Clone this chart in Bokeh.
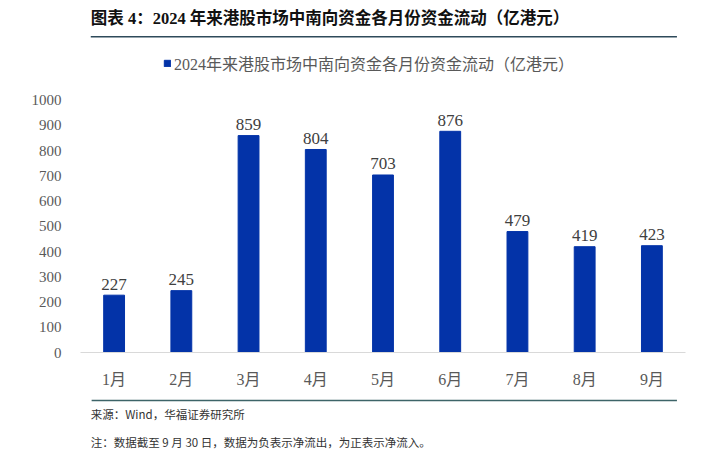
from bokeh.models import ColumnDataSource, Range1d, FactorRange, Legend, LegendItem
from bokeh.plotting import figure
from bokeh.layouts import column
from bokeh.core.properties import value
from bokeh.embed import file_html
from bokeh.resources import INLINE

months = ["1月", "2月", "3月", "4月", "5月", "6月", "7月", "8月", "9月"]
flows = [227, 245, 859, 804, 703, 876, 479, 419, 423]
y_ticks = [0, 100, 200, 300, 400, 500, 600, 700, 800, 900, 1000]

title_text = "图表 4：2024 年来港股市场中南向资金各月份资金流动（亿港元）"
series_name = "2024年来港股市场中南向资金各月份资金流动（亿港元）"
source_text = "来源：Wind，华福证券研究所"
note_text = "注：数据截至 9 月 30 日，数据为负表示净流出，为正表示净流入。"

SERIF = "Liberation Serif, Noto Sans CJK SC"
SANS = "Noto Sans CJK SC"
BLUE = "#0333A8"
W = 707


def strip(h):
    # plain figure in pixel coordinates, y pointing down
    f = figure(width=W, height=h, x_range=Range1d(0, W), y_range=Range1d(h, 0),
               output_backend="svg", toolbar_location=None,
               x_axis_location=None, y_axis_location=None, min_border=0)
    f.outline_line_color = None
    f.grid.grid_line_color = None
    return f


# header: title + rule
head = strip(46)
head.text(x=[12], y=[18], text=[title_text], text_font=value(SERIF), text_font_size="16.5px",
          text_font_style="bold", text_color="#111111", text_baseline="middle")
head.segment(x0=[12], y0=[36.3], x1=[697], y1=[36.3], line_color="#2E4A5A", line_width=1.6)

# main chart
src = ColumnDataSource(data=dict(month=months, flow=flows, lbl=[str(v) for v in flows]))

p = figure(x_range=FactorRange(*months, range_padding=0), y_range=Range1d(0, 1200),
           width=W, height=344, output_backend="svg", toolbar_location=None,
           min_border_left=80, min_border_right=22, min_border_top=3, min_border_bottom=37)
p.outline_line_color = None
p.grid.grid_line_color = None

bars = p.vbar(x="month", top="flow", width=0.31, color=BLUE, source=src)
p.text(x="month", y="flow", text="lbl", source=src, text_align="center",
       text_baseline="alphabetic", y_offset=-11, text_font=value(SERIF),
       text_font_size="17px", text_color="#404040")

p.yaxis.ticker = y_ticks
p.yaxis.axis_line_color = None
p.yaxis.major_tick_line_color = None
p.yaxis.minor_tick_line_color = None
p.yaxis.major_label_text_font = SERIF
p.yaxis.major_label_text_font_size = "15px"
p.yaxis.major_label_text_color = "#595959"
p.yaxis.major_label_standoff = 13

p.xaxis.axis_line_color = "#D9D9D9"
p.xaxis.major_tick_line_color = None
p.xaxis.minor_tick_line_color = None
p.xaxis.major_label_text_font = SERIF
p.xaxis.major_label_text_font_size = "16px"
p.xaxis.major_label_text_color = "#595959"
p.xaxis.major_label_standoff = 12

legend = Legend(items=[LegendItem(label=series_name, renderers=[bars])],
                location=(83, 277), glyph_width=8, glyph_height=8, label_standoff=3,
                padding=0, margin=0, border_line_color=None, background_fill_alpha=0,
                label_text_font=SERIF, label_text_font_size="16px", label_text_color="#595959")
p.add_layout(legend, "center")

# footer: rule + source + note
foot = strip(70)
foot.segment(x0=[13], y0=[10], x1=[697], y1=[10], line_color="#3D6468", line_width=1.6)
foot.text(x=[12, 12], y=[23, 51], text=[source_text, note_text], text_font=value(SANS),
          text_font_size="11.5px", text_color="#333333", text_baseline="middle")

page = column(head, p, foot, spacing=0)
open("out.html", "w").write(file_html(page, INLINE))
